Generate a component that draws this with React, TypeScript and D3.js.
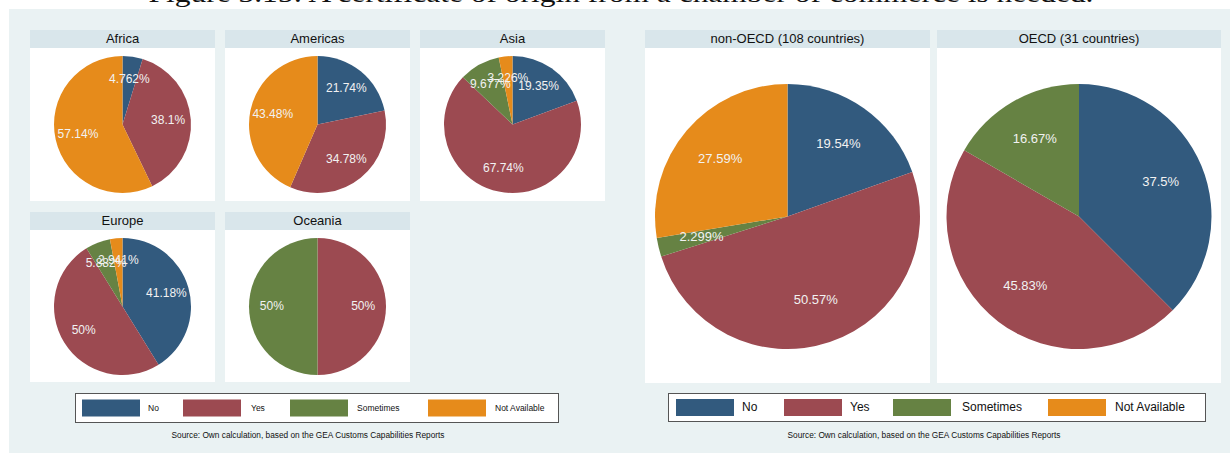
import React from "react";
import * as d3 from "d3";

const categories = ["No", "Yes", "Sometimes", "Not Available"];
const colors = ["#325a7e", "#9c4a51", "#668243", "#e68b1b"];

const regionNames = ["Africa", "Americas", "Asia", "Europe", "Oceania"];
const africa = [4.762, 38.1, 0, 57.14];
const americas = [21.74, 34.78, 0, 43.48];
const asia = [19.35, 67.74, 9.677, 3.226];
const europe = [41.18, 50, 5.882, 2.941];
const oceania = [0, 50, 50, 0];
const regionValues = [africa, americas, asia, europe, oceania];

const oecdNames = ["non-OECD (108 countries)", "OECD (31 countries)"];
const nonOecd = [19.54, 50.57, 2.299, 27.59];
const oecd = [37.5, 45.83, 16.67, 0];
const oecdValues = [nonOecd, oecd];

const caption = "Figure 3.15: A certificate of origin from a chamber of commerce is needed.";
const source = "Source: Own calculation, based on the GEA Customs Capabilities Reports";

const fmt = d3.format(".4~g");
const FONT = "Liberation Sans, Arial, Helvetica, sans-serif";

type PanelProps = {
  x: number; y: number; w: number; h: number; title: string; values: number[];
  r: number; cy: number; fontSize: number; titleSize: number;
};

function Panel({ x, y, w, h, title, values, r, cy, fontSize, titleSize }: PanelProps) {
  const pie = d3.pie<number>().sort(null).value((d) => d);
  const arcs = pie(values);
  const arc = d3.arc<d3.PieArcDatum<number>>().innerRadius(0).outerRadius(r);
  const labelArc = d3.arc<d3.PieArcDatum<number>>().innerRadius(r * 0.667).outerRadius(r * 0.667);
  const headerH = 18;
  const cx = x + w / 2;
  return (
    <g>
      <rect x={x} y={y} width={w} height={headerH} fill="#d9e6eb" />
      <text x={cx} y={y + headerH / 2 + 1} textAnchor="middle" dominantBaseline="middle"
        fontFamily={FONT} fontSize={titleSize} fill="#111">{title}</text>
      <rect x={x} y={y + headerH} width={w} height={h - headerH} fill="#ffffff" />
      <g transform={`translate(${cx},${cy})`}>
        {arcs.map((a, i) => a.value > 0 ? (
          <path key={i} d={arc(a) || ""} fill={colors[i]} />
        ) : null)}
        {arcs.map((a, i) => {
          if (a.value <= 0) return null;
          const [lx, ly] = labelArc.centroid(a);
          return (
            <text key={"l" + i} x={lx} y={ly} textAnchor="middle" dominantBaseline="middle"
              fontFamily={FONT} fontSize={fontSize} fill="#f2f2f2">{fmt(a.value) + "%"}</text>
          );
        })}
      </g>
    </g>
  );
}

type LegendProps = { x: number; y: number; w: number; h: number; swatchX: number[]; textX: number[]; sw: number; sh: number; fontSize: number };

function Legend({ x, y, w, h, swatchX, textX, sw, sh, fontSize }: LegendProps) {
  return (
    <g>
      <rect x={x + 0.5} y={y + 0.5} width={w} height={h} fill="#ffffff" stroke="#555" strokeWidth={1} />
      {categories.map((c, i) => (
        <g key={c}>
          <rect x={swatchX[i]} y={y + (h - sh) / 2 + 0.5} width={sw} height={sh} fill={colors[i]} />
          <text x={textX[i]} y={y + h / 2 + 1} dominantBaseline="middle" fontFamily={FONT}
            fontSize={fontSize} fill="#111">{c}</text>
        </g>
      ))}
    </g>
  );
}

export default function App() {
  const leftPos = [
    { x: 30, y: 30 }, { x: 225, y: 30 }, { x: 420, y: 30 },
    { x: 30, y: 212 }, { x: 225, y: 212 },
  ];
  return (
    <div style={{ position: "fixed", left: 0, top: 0 }}>
      <svg width={1230} height={453} style={{ display: "block" }}>
        <rect x={0} y={0} width={1230} height={453} fill="#ffffff" />
        <rect x={9} y={9} width={1221} height={444} fill="#eaf2f3" />
        <text x={621} y={2} textAnchor="middle" fontFamily="Liberation Serif, DejaVu Serif, serif"
          fontSize={25} textLength={945} lengthAdjust="spacingAndGlyphs" fill="#111">{caption}</text>

        {regionNames.map((name, i) => (
          <Panel key={name} x={leftPos[i].x} y={leftPos[i].y} w={185} h={i < 3 ? 171 : 170}
            title={name} values={regionValues[i]} r={68.5}
            cy={leftPos[i].y + 94.5} fontSize={12} titleSize={13} />
        ))}

        {oecdNames.map((name, i) => (
          <Panel key={name} x={i === 0 ? 645 : 937} y={30} w={i === 0 ? 285 : 284} h={353}
            title={name} values={oecdValues[i]} r={132.5} cy={216.5} fontSize={13} titleSize={13} />
        ))}

        <Legend x={75} y={393} w={483} h={29} swatchX={[82, 183, 290, 428]} textX={[148, 251, 357, 495]}
          sw={58} sh={17} fontSize={8.5} />
        <Legend x={668} y={393} w={537} h={28} swatchX={[676, 784, 893, 1048]} textX={[742, 850, 962, 1115]}
          sw={58} sh={17} fontSize={12} />

        <text x={308} y={438} textAnchor="middle" fontFamily={FONT} fontSize={8.3} fill="#111">{source}</text>
        <text x={924} y={438} textAnchor="middle" fontFamily={FONT} fontSize={8.3} fill="#111">{source}</text>
      </svg>
    </div>
  );
}
